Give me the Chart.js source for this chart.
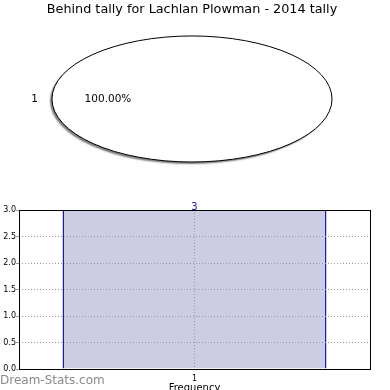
<!DOCTYPE html>
<html>
<head>
<meta charset="utf-8">
<script src="https://cdn.jsdelivr.net/npm/chart.js@4"></script>
<style>
html,body{margin:0;padding:0;background:#fff;width:390px;height:390px;overflow:hidden;}
#pie{position:absolute;left:0;top:0;}
#bar{position:absolute;left:0;top:195px;}
#wm{position:absolute;left:0;top:373px;font-family:"DejaVu Sans",sans-serif;font-size:12px;color:#8a8a8a;}
</style>
</head>
<body>
<canvas id="pie" width="390" height="195"></canvas>
<canvas id="bar" width="390" height="195"></canvas>
<div id="wm">Dream-Stats.com</div>
<script>
const titleText = "Behind tally for Lachlan Plowman - 2014 tally";
const pieLabels = ["1"];
const pieValues = [3];
const barCategories = ["1"];
const barValues = [3];
const yTicks = [0, 0.5, 1.0, 1.5, 2.0, 2.5, 3.0];
const xTitle = "Frequency";

const FONT = "'DejaVu Sans', sans-serif";
const NAVY = '#1c1c9c';
const ELLIPSE_ASPECT = 140 / 63; // horizontal stretch of the pie (style)

function ellipseRadii(chart) {
  const ca = chart.chartArea;
  const ry = (ca.bottom - ca.top) / 2;
  return { rx: ry * ELLIPSE_ASPECT, ry: ry };
}

const ellipsePlugin = {
  id: 'ellipsePie',
  beforeDatasetsDraw(chart) {
    const ctx = chart.ctx;
    const arc = chart.getDatasetMeta(0).data[0];
    const { rx, ry } = ellipseRadii(chart);
    const r = arc.outerRadius;
    ctx.save();
    ctx.translate(arc.x, arc.y);
    ctx.scale(rx / r, ry / r);
    ctx.translate(-arc.x, -arc.y);
    ctx.shadowColor = 'rgba(0,0,0,0.5)';
    ctx.shadowOffsetX = -2;
    ctx.shadowOffsetY = 2;
    ctx.shadowBlur = 1.5;
  },
  afterDatasetsDraw(chart) {
    const ctx = chart.ctx;
    ctx.restore();
    const meta = chart.getDatasetMeta(0);
    const { rx, ry } = ellipseRadii(chart);
    const total = pieValues.reduce((a, b) => a + b, 0);
    meta.data.forEach((arc, i) => {
      ctx.save();
      ctx.beginPath();
      ctx.ellipse(arc.x, arc.y, rx, ry, 0, 0, Math.PI * 2);
      ctx.strokeStyle = '#000';
      ctx.lineWidth = 1;
      ctx.stroke();
      const mid = (arc.startAngle + arc.endAngle) / 2;
      const c = Math.cos(mid), s = Math.sin(mid);
      ctx.fillStyle = '#000';
      ctx.font = "10.5px " + FONT;
      ctx.textBaseline = 'middle';
      ctx.textAlign = c < 0 ? 'right' : 'left';
      ctx.fillText(pieLabels[i], arc.x + 1.1 * rx * c, arc.y + 1.1 * ry * s);
      ctx.textAlign = 'center';
      const pct = (pieValues[i] / total * 100).toFixed(2) + '%';
      ctx.fillText(pct, arc.x + 0.6 * rx * c, arc.y + 0.6 * ry * s);
      ctx.restore();
    });
  }
};

new Chart(document.getElementById('pie'), {
  type: 'pie',
  data: {
    labels: pieLabels,
    datasets: [{
      data: pieValues,
      backgroundColor: '#ffffff',
      borderWidth: 0,
      hoverOffset: 0
    }]
  },
  options: {
    responsive: false,
    animation: false,
    devicePixelRatio: 1,
    rotation: 90,
    layout: { padding: { left: 0, right: 6, top: 0, bottom: 33 } },
    plugins: {
      legend: { display: false },
      tooltip: { enabled: false },
      title: {
        display: true,
        text: titleText,
        color: '#000',
        font: { family: FONT, size: 12.8, weight: 'normal' },
        padding: { top: 1.5, bottom: 19.1 }
      }
    }
  },
  plugins: [ellipsePlugin]
});

const framePlugin = {
  id: 'frame',
  afterDatasetsDraw(chart) {
    const ctx = chart.ctx;
    const meta = chart.getDatasetMeta(0);
    ctx.save();
    ctx.fillStyle = NAVY;
    ctx.font = "10px " + FONT;
    ctx.textAlign = 'center';
    ctx.textBaseline = 'bottom';
    meta.data.forEach((bar, i) => {
      ctx.fillText(String(barValues[i]), bar.x, bar.y + 2);
    });
    ctx.restore();
  },
  afterDraw(chart) {
    const ctx = chart.ctx;
    const ca = chart.chartArea;
    ctx.save();
    ctx.strokeStyle = '#000';
    ctx.lineWidth = 1;
    ctx.strokeRect(Math.round(ca.left) + 0.5, Math.round(ca.top) + 0.5,
      Math.round(ca.right - ca.left), Math.round(ca.bottom - ca.top));
    ctx.restore();
  }
};

new Chart(document.getElementById('bar'), {
  type: 'bar',
  data: {
    labels: barCategories,
    datasets: [{
      data: barValues,
      backgroundColor: 'rgb(204,204,228)',
      borderColor: NAVY,
      borderWidth: { left: 1.5, right: 1.5, top: 0, bottom: 0 },
      borderSkipped: false,
      categoryPercentage: 1.0,
      barPercentage: 0.752
    }]
  },
  options: {
    responsive: false,
    animation: false,
    devicePixelRatio: 1,
    layout: { padding: { left: 0, right: 20, top: 15, bottom: 0 } },
    plugins: { legend: { display: false }, tooltip: { enabled: false }, title: { display: false } },
    scales: {
      x: {
        grid: { z: 1, offset: false, color: '#9a9a9a', drawTicks: false, lineWidth: 1 },
        border: { display: false, dash: [1, 2] },
        ticks: { color: '#000', font: { family: FONT, size: 8 }, padding: 5 },
        title: { display: true, text: xTitle, color: '#000', font: { family: FONT, size: 10 }, padding: { top: 0, bottom: -4 } },
        afterFit(scale) { scale.height = 21; }
      },
      y: {
        min: 0, max: 3,
        afterBuildTicks(scale) { scale.ticks = yTicks.map(v => ({ value: v })); },
        grid: { z: 1, color: '#9a9a9a', tickLength: 3, tickColor: '#999', lineWidth: 1 },
        border: { display: false, dash: [1, 2] },
        ticks: { color: '#000', font: { family: FONT, size: 8 }, padding: 0, callback: v => Number(v).toFixed(1) },
        afterFit(scale) { scale.width = 19; }
      }
    }
  },
  plugins: [framePlugin]
});
</script>
</body>
</html>
